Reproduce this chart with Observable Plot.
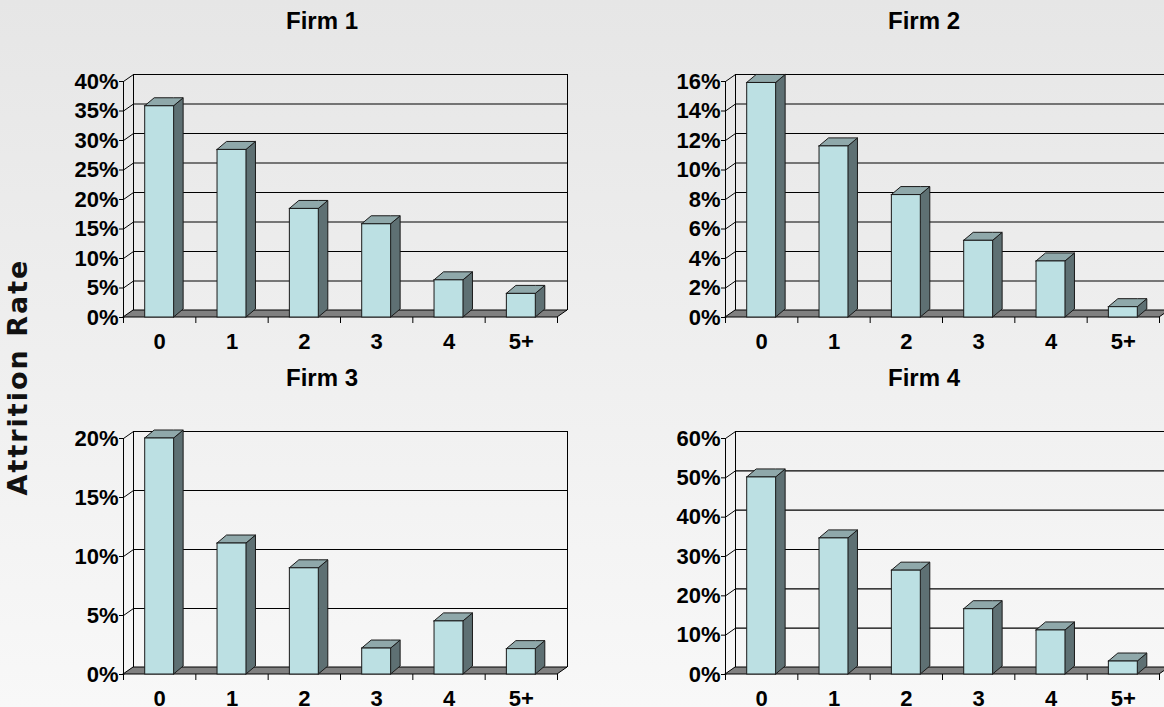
<!DOCTYPE html>
<html><head><meta charset="utf-8">
<script src="https://cdn.jsdelivr.net/npm/d3@7"></script>
<script src="https://cdn.jsdelivr.net/npm/@observablehq/plot@0.6"></script>
<style>
html,body{margin:0;padding:0}
body{width:1164px;height:707px;overflow:hidden;position:relative;background:linear-gradient(to bottom,#e6e6e6,#f8f8f8);font-family:"Liberation Sans",Arial,sans-serif}
.panel{position:absolute;width:582px;height:350px}
.panel svg{max-width:none !important}
.title{position:absolute;font-weight:bold;font-size:24px;transform:translateX(-50%);white-space:nowrap;color:#000;line-height:1}
#ylab{position:absolute;left:17px;top:377px;transform:translate(-50%,-50%) rotate(-90deg);font-family:"DejaVu Sans",sans-serif;font-weight:bold;font-size:27px;letter-spacing:2px;white-space:nowrap;color:#111}
</style></head><body>
<div id="ylab">Attrition Rate</div>
<script>
// ---- data ----
const categories = ["0", "1", "2", "3", "4", "5+"];
const firm1 = [35.8, 28.4, 18.4, 15.8, 6.3, 4.0];
const firm2 = [15.9, 11.6, 8.3, 5.2, 3.8, 0.7];
const firm3 = [20.0, 11.1, 9.0, 2.2, 4.5, 2.15];
const firm4 = [50.1, 34.6, 26.4, 16.6, 11.2, 3.3];
const ticks1 = [0, 5, 10, 15, 20, 25, 30, 35, 40];
const ticks2 = [0, 2, 4, 6, 8, 10, 12, 14, 16];
const ticks3 = [0, 5, 10, 15, 20];
const ticks4 = [0, 10, 20, 30, 40, 50, 60];
const titles = ["Firm 1", "Firm 2", "Firm 3", "Firm 4"];

// ---- layout / style ----
const W = 582, H = 350, ML = 123, MR = 25, MT = 81, MB = 33;
const wallDx = 10, wallDy = 7, barDx = 9.5, barDy = 8, barW = 0.4;
const cFront = "#bce0e3", cSide = "#5e7073", cTop = "#8fa8aa", cFloor = "#808080", cEdge = "#1a1a1a";

function panel(values, ticks, title, left, top) {
  const n = categories.length;
  const yMax = ticks[ticks.length - 1];
  const kx = n / (W - ML - MR), ky = yMax / (H - MT - MB);
  const wx = wallDx * kx, wy = wallDy * ky, bx = barDx * kx, by = barDy * ky;
  const bars = values.map((v, i) => ({cat: categories[i], v, xl: i + 0.5 - barW / 2, xr: i + 0.5 + barW / 2}));
  const side = bars.flatMap(b => [
    {z: b.cat, x: b.xr, y1: 0, y2: b.v},
    {z: b.cat, x: b.xr + bx, y1: by, y2: b.v + by}
  ]);
  const topFace = bars.flatMap(b => [
    {z: b.cat, x: b.xl, y1: b.v, y2: b.v},
    {z: b.cat, x: b.xl + bx, y1: b.v, y2: b.v + by},
    {z: b.cat, x: b.xr, y1: b.v, y2: b.v + by},
    {z: b.cat, x: b.xr + bx, y1: b.v + by, y2: b.v + by}
  ]);
  const floor = [
    {x: 0, y1: 0, y2: 0},
    {x: wx, y1: 0, y2: wy},
    {x: n, y1: 0, y2: wy},
    {x: n + wx, y1: wy, y2: wy}
  ];
  const plot = Plot.plot({
    width: W, height: H, marginLeft: ML, marginRight: MR, marginTop: MT, marginBottom: MB,
    x: {type: "linear", domain: [0, n], axis: null},
    y: {type: "linear", domain: [0, yMax], axis: null},
    style: {background: "transparent", overflow: "visible", maxWidth: "none", fontFamily: "Liberation Sans, Arial, sans-serif", color: "#000"},
    marks: [
      Plot.ruleY(ticks, {y: d => d, x1: 0, x2: n, dx: wallDx, dy: -wallDy, stroke: "#000", strokeWidth: 1.2}),
      Plot.ruleX([0, n], {x: d => d, y1: 0, y2: yMax, dx: wallDx, dy: -wallDy, stroke: "#000", strokeWidth: 1}),
      Plot.link(ticks, {x1: 0, y1: d => d, x2: wx, y2: d => d + wy, stroke: "#000", strokeWidth: 1}),
      Plot.area(floor, {x1: "x", y1: "y1", y2: "y2", fill: cFloor, stroke: "#000", strokeWidth: 1}),
      Plot.ruleX([0], {x: d => d, y1: 0, y2: yMax, stroke: "#000", strokeWidth: 1}),
      Plot.axisY({ticks, tickFormat: d => d + "%", tickSize: 4, tickPadding: 1, fontSize: 22, fontWeight: "bold", label: null}),
      Plot.axisX({ticks: d3.range(n + 1), tickFormat: () => "", tickSize: 6, label: null}),
      Plot.area(side, {x1: "x", y1: "y1", y2: "y2", z: "z", fill: cSide, stroke: cEdge, strokeWidth: 1}),
      Plot.area(topFace, {x1: "x", y1: "y1", y2: "y2", z: "z", fill: cTop, stroke: cEdge, strokeWidth: 1}),
      Plot.rect(bars, {x1: "xl", x2: "xr", y1: 0, y2: "v", fill: cFront, stroke: cEdge, strokeWidth: 1}),
      Plot.text(categories, {x: (d, i) => i + 0.5, y: 0, dy: 24, text: d => d, fontSize: 22, fontWeight: "bold", lineAnchor: "middle"})
    ]
  });
  const div = document.createElement("div");
  div.className = "panel";
  div.style.left = left + "px";
  div.style.top = top + "px";
  div.appendChild(plot);
  document.body.appendChild(div);
  const t = document.createElement("div");
  t.className = "title";
  t.textContent = title;
  t.style.left = (left + 322) + "px";
  t.style.top = (top + 9) + "px";
  document.body.appendChild(t);
}

panel(firm1, ticks1, titles[0], 0, 0);
panel(firm2, ticks2, titles[1], 602, 0);
panel(firm3, ticks3, titles[2], 0, 357);
panel(firm4, ticks4, titles[3], 602, 357);
</script>
</body></html>
